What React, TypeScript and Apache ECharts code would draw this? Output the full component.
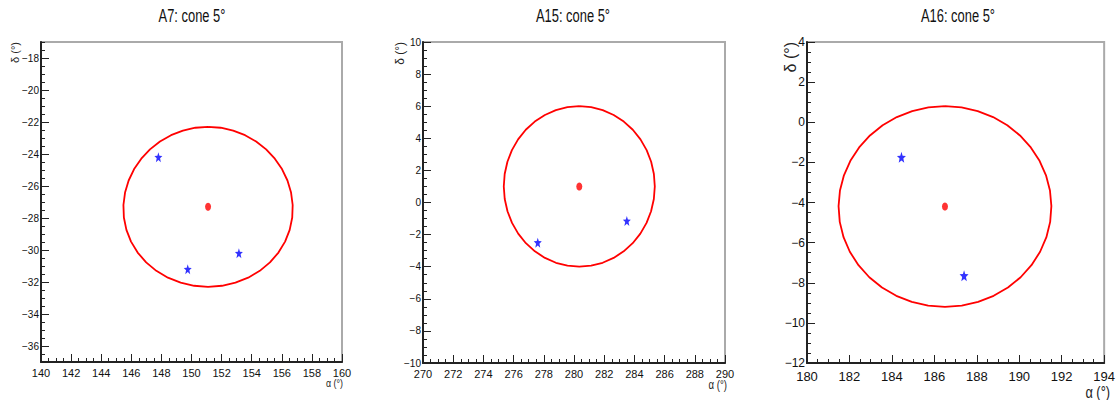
import React, { useEffect, useRef } from "react";
import * as echarts from "echarts";

// ---------- data ----------
const panelTitles = ["A7: cone 5°", "A15: cone 5°", "A16: cone 5°"];
const CONE_RADIUS = 5; // degrees

const xRangeA7 = [140, 160];
const yRangeA7 = [-37, -17];
const xRangeA15 = [270, 290];
const yRangeA15 = [-10, 10];
const xRangeA16 = [180, 194];
const yRangeA16 = [-12, 4];

const xTicksA7 = [140, 142, 144, 146, 148, 150, 152, 154, 156, 158, 160];
const yTicksA7 = [-36, -34, -32, -30, -28, -26, -24, -22, -20, -18];
const xTicksA15 = [270, 272, 274, 276, 278, 280, 282, 284, 286, 288, 290];
const yTicksA15 = [-10, -8, -6, -4, -2, 0, 2, 4, 6, 8, 10];
const xTicksA16 = [180, 182, 184, 186, 188, 190, 192, 194];
const yTicksA16 = [-12, -10, -8, -6, -4, -2, 0, 2, 4];

const centerA7 = [151.1, -27.3];
const centerA15 = [280.35, 1.0];
const centerA16 = [186.5, -4.2];

const starsA7 = [
  [147.8, -24.2],
  [149.75, -31.2],
  [153.15, -30.2],
];
const starsA15 = [
  [277.6, -2.5],
  [283.5, -1.15],
];
const starsA16 = [
  [184.45, -1.75],
  [187.4, -7.65],
];

// ---------- helpers ----------
const D2R = Math.PI / 180;
// boundary of a cone (small circle on the sphere) around a centre
function coneBoundary(center: number[], radius: number, n = 40) {
  const [a0, d0] = center;
  const r = radius * D2R;
  const dd0 = d0 * D2R;
  const pts: number[][] = [];
  for (let i = 0; i <= n; i++) {
    const t = (2 * Math.PI * i) / n;
    const sd = Math.sin(dd0) * Math.cos(r) + Math.cos(dd0) * Math.sin(r) * Math.cos(t);
    const d = Math.asin(sd);
    const da = Math.atan2(Math.sin(t) * Math.sin(r) * Math.cos(dd0), Math.cos(r) - Math.sin(dd0) * sd);
    pts.push([a0 + da / D2R, d / D2R]);
  }
  return pts;
}

function halfSteps(range: number[]) {
  const out: number[] = [];
  for (let v = range[0]; v <= range[1] + 1e-9; v += 0.5) out.push(Math.round(v * 10) / 10);
  return out;
}

const FONT = "'Liberation Sans', Arial, sans-serif";
const fmt = (v: number) => String(v).replace("-", "\u2212");

const panels = [
  { title: panelTitles[0], xr: xRangeA7, yr: yRangeA7, xt: xTicksA7, yt: yTicksA7, c: centerA7, s: starsA7 },
  { title: panelTitles[1], xr: xRangeA15, yr: yRangeA15, xt: xTicksA15, yt: yTicksA15, c: centerA15, s: starsA15 },
  { title: panelTitles[2], xr: xRangeA16, yr: yRangeA16, xt: xTicksA16, yt: yTicksA16, c: centerA16, s: starsA16 },
];

// layout / style (not data)
const grids = [
  { left: 41, top: 42, width: 301, height: 320 },
  { left: 423, top: 42, width: 302, height: 321 },
  { left: 807, top: 42, width: 302, height: 321 },
];
const titleX = [192, 573, 958];
const styles = [
  { xFont: 11, yFont: 10, xMargin: 5, yMargin: 2, nameFont: 11, xNameRight: 343, xNameY: 383.5, yNameX: 15, starSize: [8, 10] },
  { xFont: 11, yFont: 10, xMargin: 5, yMargin: 2, nameFont: 12, xNameRight: 727, xNameY: 385, yNameX: 400, starSize: [8, 10] },
  { xFont: 13, yFont: 12, xMargin: 7, yMargin: 2, nameFont: 16, xNameRight: 1110, xNameY: 392, yNameX: 790, starSize: [9, 11] },
];

const STAR =
  "path://M50,0 L63,33 L100,35 L71,58 L81,95 L50,75 L19,95 L29,58 L0,35 L37,33 Z";

function axisPair(dim: "x" | "y", gridIndex: number, range: number[], majors: number[], fontSize: number, margin: number) {
  const position = dim === "x" ? "bottom" : "left";
  const main = {
    type: "value",
    gridIndex,
    position,
    min: range[0],
    max: range[1],
    axisLine: { show: true, onZero: false, lineStyle: { color: "#222", width: 2 } },
    axisTick: { show: true, inside: true, length: 4, customValues: halfSteps(range), lineStyle: { color: "#222", width: 1 } },
    axisLabel: {
      show: true,
      customValues: majors,
      margin,
      fontSize,
      fontFamily: FONT,
      color: "#111",
      formatter: fmt,
    },
    splitLine: { show: false },
  };
  const major = {
    type: "value",
    gridIndex,
    position,
    min: range[0],
    max: range[1],
    axisLine: { show: false, onZero: false },
    axisTick: { show: true, inside: true, length: 8, customValues: majors, lineStyle: { color: "#222", width: 1 } },
    axisLabel: { show: false },
    splitLine: { show: false },
  };
  return [main, major];
}

export default function App() {
  const ref = useRef<HTMLDivElement>(null);
  useEffect(() => {
    if (!ref.current) return;
    const chart = echarts.init(ref.current, undefined, { renderer: "svg" });
    const xAxis: any[] = [];
    const yAxis: any[] = [];
    const series: any[] = [];
    const graphic: any[] = [];
    panels.forEach((p, i) => {
      const st = styles[i];
      xAxis.push(...axisPair("x", i, p.xr, p.xt, st.xFont, st.xMargin));
      yAxis.push(...axisPair("y", i, p.yr, p.yt, st.yFont, st.yMargin));
      const ax = i * 2;
      series.push({
        type: "line",
        xAxisIndex: ax,
        yAxisIndex: ax,
        data: coneBoundary(p.c, CONE_RADIUS),
        showSymbol: false,
        symbol: "none",
        smooth: false,
        lineStyle: { color: "#ff0000", width: 1.8 },
        z: 2,
      });
      series.push({
        type: "scatter",
        xAxisIndex: ax,
        yAxisIndex: ax,
        data: [p.c],
        symbol: "circle",
        symbolSize: [6, 8],
        itemStyle: { color: "#ff0000" },
        z: 3,
      });
      series.push({
        type: "scatter",
        xAxisIndex: ax,
        yAxisIndex: ax,
        data: p.s,
        symbol: STAR,
        symbolSize: st.starSize,
        itemStyle: { color: "#0000ff" },
        z: 3,
      });
      graphic.push({
        type: "text",
        x: titleX[i],
        y: 15,
        scaleX: 0.68,
        style: { text: p.title, align: "center", verticalAlign: "middle", fontFamily: FONT, fontSize: 19, fill: "#111" },
      });
      graphic.push({
        type: "text",
        x: st.xNameRight,
        y: st.xNameY,
        scaleX: 0.8,
        style: { text: "α (°)", align: "right", verticalAlign: "middle", fontFamily: FONT, fontSize: st.nameFont, fill: "#222" },
      });
      graphic.push({
        type: "text",
        x: st.yNameX,
        y: 42,
        rotation: Math.PI / 2,
        style: { text: "δ (°)", align: "right", verticalAlign: "middle", fontFamily: FONT, fontSize: st.nameFont, fill: "#222" },
      });
    });
    chart.setOption({
      animation: false,
      backgroundColor: "#ffffff",
      grid: grids.map((g) => ({ ...g, show: true, borderColor: "#aaaaaa", borderWidth: 2, backgroundColor: "transparent" })),
      xAxis,
      yAxis,
      series,
      graphic,
    });
    return () => chart.dispose();
  }, []);
  return <div ref={ref} style={{ position: "absolute", left: 0, top: 0, width: 1118, height: 400 }} />;
}
